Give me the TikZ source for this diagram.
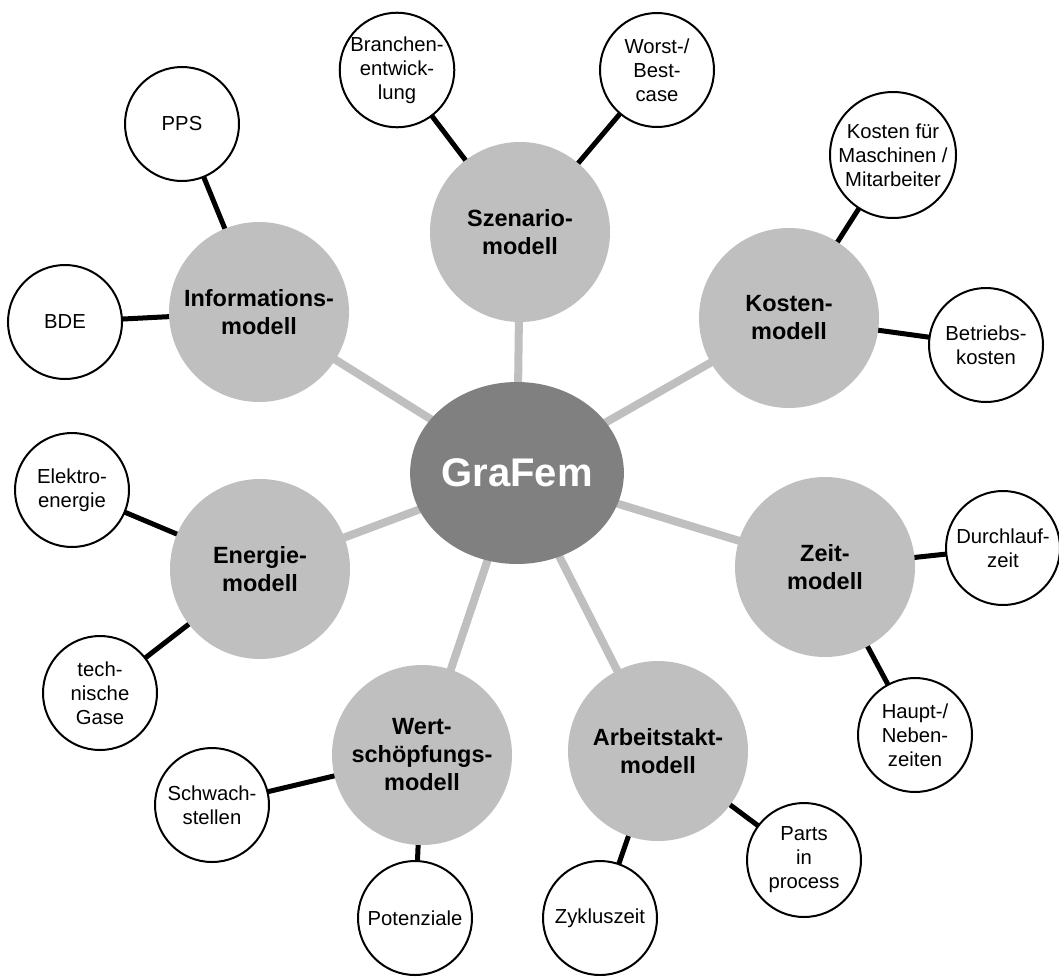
\documentclass[tikz,border=0pt]{standalone}
\usepackage{fontspec}
\setmainfont{Liberation Sans}
\usetikzlibrary{shapes.geometric,backgrounds}
\definecolor{hubgrey}{RGB}{128,128,128}
\definecolor{modgrey}{RGB}{191,191,191}
\tikzset{
  hub/.style={ellipse, fill=hubgrey, text=white, inner sep=0pt,
    minimum width=157.5pt, minimum height=136.5pt,
    font=\fontsize{30}{34}\selectfont\bfseries},
  modul/.style={circle, fill=modgrey, inner sep=0pt, minimum size=135pt,
    align=center, font=\fontsize{17.6}{21}\selectfont\bfseries},
  detail/.style={circle, draw=black, line width=1.5pt, fill=white, inner sep=0pt,
    minimum size=85.5pt, align=center, font=\fontsize{15.2}{18}\selectfont},
  spoke/.style={draw=modgrey, line width=6pt},
  twig/.style={draw=black, line width=3.75pt},
}
\begin{document}
\begin{tikzpicture}[x=0.75pt,y=-0.75pt]
\useasboundingbox (0,0) rectangle (1059,978);

% hub
\node[hub] (g) at (517,473) {GraFem};

% model circles
\node[modul] (sz) at (520,232) {Szenario-\\modell};
\node[modul] (inf) at (259,312) {Informations-\\modell};
\node[modul] (ko) at (789,318) {Kosten-\\modell};
\node[modul] (en) at (260,569) {Energie-\\modell};
\node[modul] (ze) at (825,567) {Zeit-\\modell};
\node[modul] (ws) at (422,755) {Wert-\\schöpfungs-\\modell};
\node[modul] (at) at (658,751) {Arbeitstakt-\\modell};

% detail circles
\node[detail] (br) at (397,70) {Branchen-\\entwick-\\lung};
\node[detail] (wb) at (657,70) {Worst-/\\Best-\\case};
\node[detail] (pps) at (182,124) {PPS};
\node[detail] (bde) at (65,322) {BDE};
\node[detail] (kf) at (893,155) {Kosten für\\Maschinen /\\Mitarbeiter};
\node[detail] (bk) at (986,345) {Betriebs-\\kosten};
\node[detail] (el) at (72,490) {Elektro-\\energie};
\node[detail] (tg) at (100,693) {tech-\\nische\\Gase};
\node[detail] (dz) at (1003,548) {Durchlauf-\\zeit};
\node[detail] (hn) at (915,735) {Haupt-/\\Neben-\\zeiten};
\node[detail] (pi) at (804,860) {Parts\\in\\process};
\node[detail] (zy) at (600,918) {Zykluszeit};
\node[detail] (po) at (415,918) {Potenziale};
\node[detail] (sw) at (212,805) {Schwach-\\stellen};

\begin{scope}[on background layer]
  \fill[white] (0,0) rectangle (1059,978);
  \foreach \m in {sz,inf,ko,en,ze,ws,at}
    \draw[spoke] (g.center) -- (\m.center);
  \draw[twig] (sz.center) -- (br.center);
  \draw[twig] (sz.center) -- (wb.center);
  \draw[twig] (inf.center) -- (pps.center);
  \draw[twig] (inf.center) -- (bde.center);
  \draw[twig] (ko.center) -- (kf.center);
  \draw[twig] (ko.center) -- (bk.center);
  \draw[twig] (en.center) -- (el.center);
  \draw[twig] (en.center) -- (tg.center);
  \draw[twig] (ze.center) -- (dz.center);
  \draw[twig] (ze.center) -- (hn.center);
  \draw[twig] (at.center) -- (pi.center);
  \draw[twig] (at.center) -- (zy.center);
  \draw[twig] (ws.center) -- (po.center);
  \draw[twig] (ws.center) -- (sw.center);
\end{scope}
\end{tikzpicture}
\end{document}
